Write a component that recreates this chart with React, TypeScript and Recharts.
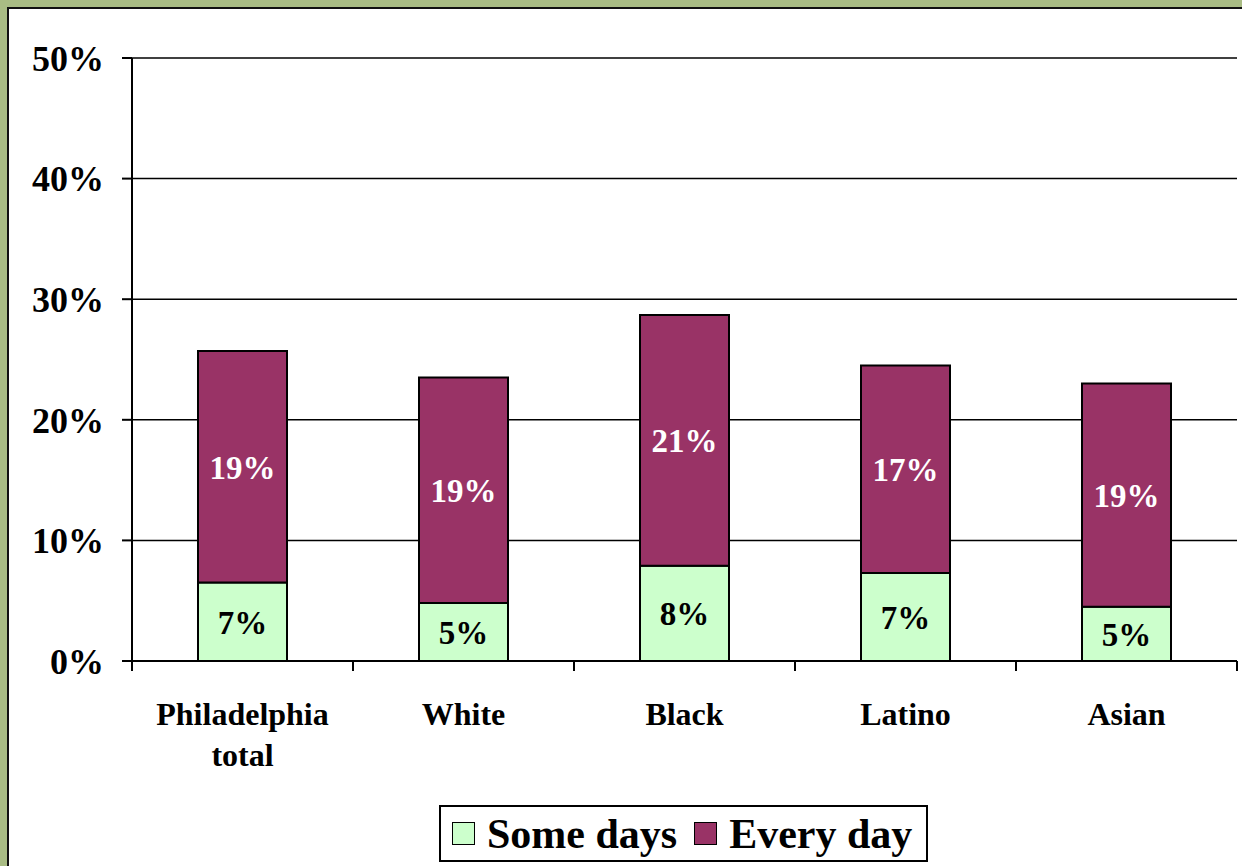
import { BarChart, Bar, XAxis, YAxis, CartesianGrid, Legend, LabelList } from 'recharts'

const categories = ['Philadelphia\ntotal', 'White', 'Black', 'Latino', 'Asian']
const someDays = [6.5, 4.8, 7.9, 7.3, 4.5]
const everyDay = [19.2, 18.7, 20.8, 17.2, 18.5]
const yTicks = [0, 10, 20, 30, 40, 50]
const seriesOrder = ['Some days', 'Every day']

const SERIF = 'Liberation Serif, Tinos, Times New Roman, Times, DejaVu Serif, serif'

const data = categories.map((name, i) => ({
  name,
  someDays: someDays[i],
  everyDay: everyDay[i],
}))

function CategoryTick(props: any) {
  const { x, y, payload, index, width, visibleTicksCount } = props
  const lines = String(payload.value).split('\n')
  const half = width / visibleTicksCount / 2
  return (
    <g>
      <line x1={x - half} y1={y} x2={x - half} y2={y + 10} stroke="#000" strokeWidth={2} />
      {index === visibleTicksCount - 1 && (
        <line x1={x + half} y1={y} x2={x + half} y2={y + 10} stroke="#000" strokeWidth={2} />
      )}
      <text x={x} y={y} textAnchor="middle" fontFamily={SERIF} fontWeight="bold" fontSize={32} fill="#000">
        {lines.map((line, i) => (
          <tspan key={i} x={x} y={y + 64 + i * 41}>{line}</tspan>
        ))}
      </text>
    </g>
  )
}

function LegendBox({ payload }: any) {
  const items = [...(payload || [])].sort(
    (a: any, b: any) => seriesOrder.indexOf(a.value) - seriesOrder.indexOf(b.value)
  )
  return (
    <div
      style={{
        boxSizing: 'border-box',
        width: 489,
        height: 57,
        border: '2px solid #000',
        background: '#fff',
        display: 'flex',
        alignItems: 'center',
        paddingLeft: 11,
        fontFamily: SERIF,
        fontWeight: 'bold',
        fontSize: 42,
        color: '#000',
        lineHeight: 1,
        whiteSpace: 'nowrap',
      }}
    >
      {items.map((item: any) => (
        <div key={item.value} style={{ display: 'flex', alignItems: 'center', marginRight: 17 }}>
          <span
            style={{
              display: 'inline-block',
              boxSizing: 'border-box',
              width: 23,
              height: 23,
              background: item.color,
              border: '1.5px solid #000',
              marginRight: 12,
            }}
          />
          <span>{item.value}</span>
        </div>
      ))}
    </div>
  )
}

export default function App() {
  return (
    <div style={{ position: 'absolute', left: 0, top: 0, width: 1242, height: 866, background: '#a9bc84', overflow: 'hidden' }}>
      <div
        style={{
          position: 'absolute',
          left: 7,
          top: 7,
          right: 0,
          bottom: 0,
          background: '#fff',
          borderLeft: '2px solid #111',
          borderTop: '2px solid #111',
        }}
      />
      <div style={{ position: 'absolute', left: 0, top: 0 }}>
        <BarChart width={1242} height={866} data={data} margin={{ top: 58, right: 5, left: 0, bottom: 4 }} barSize={89}>
          <CartesianGrid horizontal vertical={false} stroke="#000" strokeWidth={1.5} />
          <XAxis
            dataKey="name"
            height={144}
            axisLine={{ stroke: '#000', strokeWidth: 2 }}
            tickLine={false}
            tickSize={0}
            tickMargin={0}
            interval={0}
            tick={<CategoryTick />}
          />
          <YAxis
            domain={[0, 50]}
            ticks={yTicks}
            width={132}
            tickFormatter={(v: number) => `${v}%`}
            tickSize={10}
            tickMargin={18}
            tick={{ fontFamily: SERIF, fontWeight: 'bold', fontSize: 36, fill: '#000' }}
            tickLine={{ stroke: '#000', strokeWidth: 2 }}
            axisLine={{ stroke: '#000', strokeWidth: 2 }}
          />
          <YAxis
            yAxisId="right"
            orientation="right"
            width={0}
            tick={false}
            tickLine={false}
            axisLine={{ stroke: '#000', strokeWidth: 2 }}
          />
          <Legend
            verticalAlign="bottom"
            content={<LegendBox />}
            wrapperStyle={{ left: 439, width: 489 }}
          />
          <Bar dataKey="someDays" name="Some days" stackId="a" fill="#CCFFCC" stroke="#000" strokeWidth={2} isAnimationActive={false}>
            <LabelList
              dataKey="someDays"
              position="center"
              formatter={(v: any) => `${Math.round(Number(v))}%`}
              fill="#000"
              fontSize={33}
              fontWeight="bold"
              fontFamily={SERIF}
            />
          </Bar>
          <Bar dataKey="everyDay" name="Every day" stackId="a" fill="#993366" stroke="#000" strokeWidth={2} isAnimationActive={false}>
            <LabelList
              dataKey="everyDay"
              position="center"
              formatter={(v: any) => `${Math.round(Number(v))}%`}
              fill="#fff"
              fontSize={33}
              fontWeight="bold"
              fontFamily={SERIF}
            />
          </Bar>
        </BarChart>
      </div>
    </div>
  )
}
